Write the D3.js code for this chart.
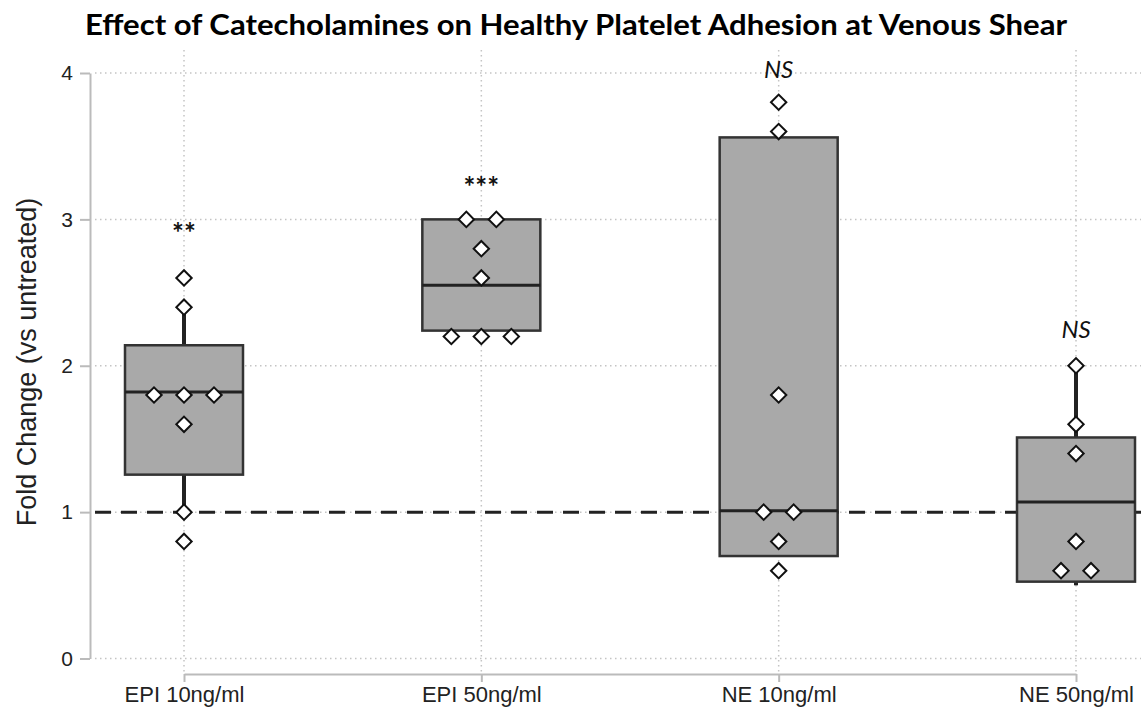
<!DOCTYPE html>
<html>
<head>
<meta charset="utf-8">
<script src="https://cdn.jsdelivr.net/npm/d3@7"></script>
<style>
  html, body { margin: 0; padding: 0; background: #fff; }
  svg { display: block; }
</style>
</head>
<body>
<svg id="chart" width="1141" height="715"></svg>
<script>
// ---- data ----
const categories = ["EPI 10ng/ml", "EPI 50ng/ml", "NE 10ng/ml", "NE 50ng/ml"];
const q1Values     = [1.256, 2.24, 0.70, 0.525];
const medianValues = [1.82, 2.55, 1.01, 1.07];
const q3Values     = [2.14, 3.00, 3.56, 1.51];
const whiskerLow   = [1.00, 2.24, 0.70, 0.50];
const whiskerHigh  = [2.40, 3.00, 3.56, 2.00];
const pointsEpi10 = [2.6, 2.4, 1.8, 1.8, 1.8, 1.6, 1.0, 0.8];
const pointsEpi50 = [3.0, 3.0, 2.8, 2.6, 2.2, 2.2, 2.2];
const pointsNe10  = [3.8, 3.6, 1.8, 1.0, 1.0, 0.8, 0.6];
const pointsNe50  = [2.0, 1.6, 1.4, 0.8, 0.6, 0.6];
const sigLabels = ["**", "***", "NS", "NS"];
const sigLevels = [2.96, 3.27, 4.02, 2.25];
const yTicks = [0, 1, 2, 3, 4];
const refValue = 1;
const titleText = "Effect of Catecholamines on Healthy Platelet Adhesion at Venous Shear";
const yTitle = "Fold Change (vs untreated)";

const pointSets = [pointsEpi10, pointsEpi50, pointsNe10, pointsNe50];

// ---- layout ----
const svg = d3.select("#chart");
const W = 1141;
const x = d3.scalePoint().domain(categories).range([184, 1076]);
const y = d3.scaleLinear().domain([0, 4]).range([658.5, 73]);
const plotLeft = 95, plotRight = W, plotTop = 50, xAxisY = 674, yAxisX = 90;
const boxW = 118, jitterStep = 30;

// gridlines
const grid = svg.append("g");
grid.selectAll("line.h").data(yTicks).join("line")
  .attr("x1", plotLeft).attr("x2", plotRight)
  .attr("y1", d => y(d)).attr("y2", d => y(d))
  .attr("stroke", "#c4c4c4").attr("stroke-width", 1.5).attr("stroke-dasharray", "1.5,3.5");
grid.selectAll("line.v").data(categories).join("line")
  .attr("x1", d => x(d)).attr("x2", d => x(d))
  .attr("y1", plotTop).attr("y2", xAxisY)
  .attr("stroke", "#c4c4c4").attr("stroke-width", 1.5).attr("stroke-dasharray", "1.5,3.5");

// reference line
svg.append("line")
  .attr("x1", plotLeft).attr("x2", plotRight)
  .attr("y1", y(refValue)).attr("y2", y(refValue))
  .attr("stroke", "#222").attr("stroke-width", 3).attr("stroke-dasharray", "16,10");

// y axis
const yAxis = svg.append("g").attr("transform", `translate(${yAxisX},0)`)
  .call(d3.axisLeft(y).tickValues(yTicks).tickSize(10).tickSizeOuter(0).tickPadding(7).tickFormat(d3.format("d")));
yAxis.select(".domain").attr("stroke", "#bbb").attr("stroke-width", 2);
yAxis.selectAll(".tick line").attr("stroke", "#bbb").attr("stroke-width", 2);
yAxis.selectAll(".tick text").attr("font-family", "Liberation Sans, Arial, sans-serif")
  .attr("font-size", 21).attr("fill", "#222");

// x axis
const xAxis = svg.append("g").attr("transform", `translate(0,${xAxisY})`)
  .call(d3.axisBottom(x).tickSize(8).tickSizeOuter(0));
xAxis.select(".domain").attr("stroke", "#bbb").attr("stroke-width", 2);
xAxis.selectAll(".tick line").attr("stroke", "#bbb").attr("stroke-width", 2);
xAxis.selectAll(".tick text").attr("font-family", "Liberation Sans, Arial, sans-serif")
  .attr("font-size", 22).attr("fill", "#222").attr("y", 28).attr("dy", 0);

// boxes
const boxData = categories.map((c, i) => ({
  c, q1: q1Values[i], med: medianValues[i], q3: q3Values[i], lo: whiskerLow[i], hi: whiskerHigh[i]
}));
const boxes = svg.append("g");
boxes.selectAll("line.wu").data(boxData).join("line")
  .attr("x1", d => x(d.c)).attr("x2", d => x(d.c))
  .attr("y1", d => y(d.q3)).attr("y2", d => y(d.hi))
  .attr("stroke", "#222").attr("stroke-width", 4);
boxes.selectAll("line.wl").data(boxData).join("line")
  .attr("x1", d => x(d.c)).attr("x2", d => x(d.c))
  .attr("y1", d => y(d.q1)).attr("y2", d => y(d.lo))
  .attr("stroke", "#222").attr("stroke-width", 4);
boxes.selectAll("rect").data(boxData).join("rect")
  .attr("x", d => x(d.c) - boxW / 2).attr("width", boxW)
  .attr("y", d => y(d.q3)).attr("height", d => y(d.q1) - y(d.q3))
  .attr("fill", "#a9a9a9").attr("stroke", "#333").attr("stroke-width", 2.5);
boxes.selectAll("line.med").data(boxData).join("line")
  .attr("x1", d => x(d.c) - boxW / 2).attr("x2", d => x(d.c) + boxW / 2)
  .attr("y1", d => y(d.med)).attr("y2", d => y(d.med))
  .attr("stroke", "#222").attr("stroke-width", 3);

// points with jitter for tied values
const pts = [];
pointSets.forEach((arr, i) => {
  const counts = d3.rollup(arr, v => v.length, v => v);
  const seen = new Map();
  arr.forEach(v => {
    const n = counts.get(v);
    const k = seen.get(v) || 0;
    seen.set(v, k + 1);
    pts.push({ c: categories[i], v, off: (k - (n - 1) / 2) * jitterStep });
  });
});
const diamond = d3.symbol(d3.symbolSquare, 118)();
svg.append("g").selectAll("path").data(pts).join("path")
  .attr("d", diamond)
  .attr("transform", d => `translate(${x(d.c) + d.off},${y(d.v)}) rotate(45)`)
  .attr("fill", "#fff").attr("stroke", "#111").attr("stroke-width", 2);

// significance labels
svg.append("g").selectAll("text").data(categories).join("text")
  .attr("x", d => x(d))
  .attr("y", (d, i) => y(sigLevels[i]))
  .attr("dy", (d, i) => sigLabels[i] === "NS" ? "0.35em" : "0.62em")
  .attr("text-anchor", "middle")
  .attr("font-family", "Lato, Open Sans, sans-serif")
  .attr("font-size", (d, i) => sigLabels[i] === "NS" ? 24 : 28)
  .attr("font-style", (d, i) => sigLabels[i] === "NS" ? "italic" : "normal")
  .attr("font-weight", (d, i) => sigLabels[i] === "NS" ? 400 : 700)
  .attr("fill", "#111")
  .text((d, i) => sigLabels[i]);

// title
svg.append("text")
  .attr("x", 576).attr("y", 35)
  .attr("text-anchor", "middle")
  .attr("font-family", "Lato, Open Sans, sans-serif")
  .attr("font-weight", 700).attr("font-size", 28).attr("fill", "#000")
  .attr("textLength", 982).attr("lengthAdjust", "spacingAndGlyphs")
  .text(titleText);

// y title
svg.append("text")
  .attr("transform", "translate(36,362) rotate(-90)")
  .attr("text-anchor", "middle")
  .attr("font-family", "Liberation Sans, Arial, sans-serif")
  .attr("font-size", 27).attr("fill", "#222")
  .text(yTitle);
</script>
</body>
</html>
